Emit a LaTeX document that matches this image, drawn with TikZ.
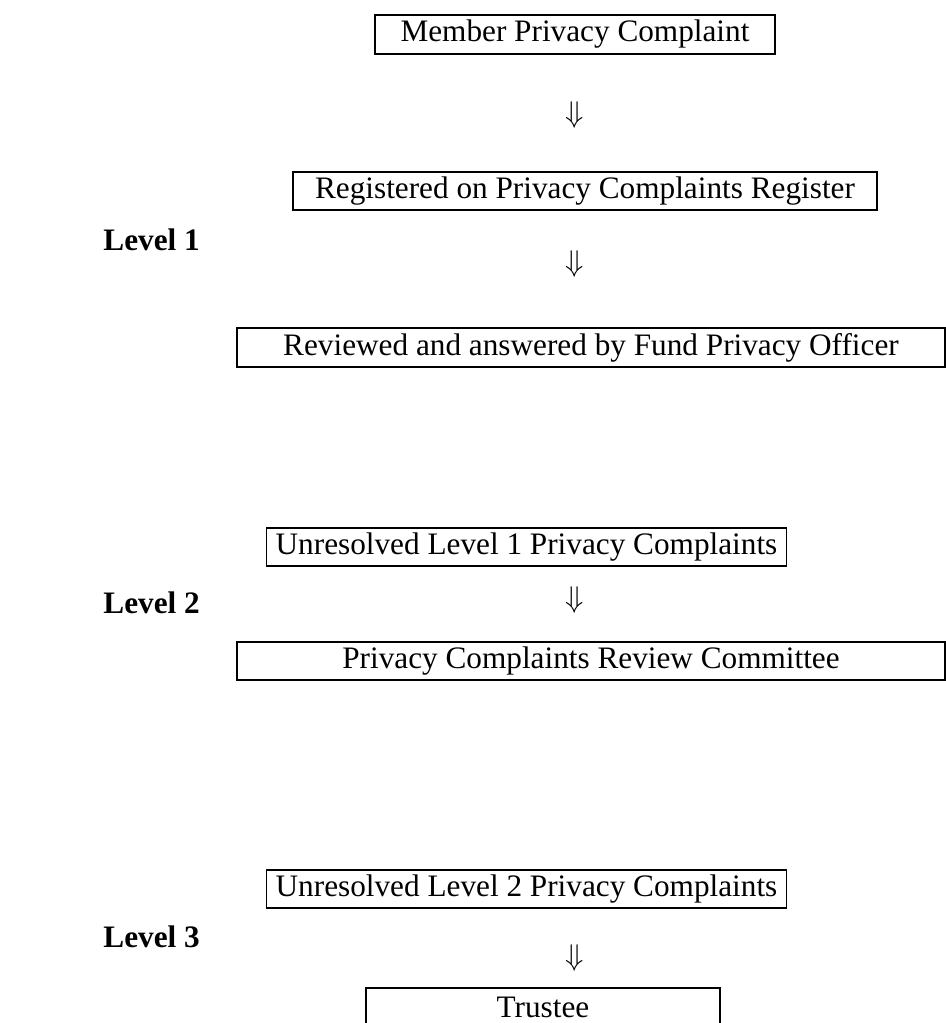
\documentclass[tikz,border=0pt]{standalone}
\usepackage{fontspec}
\setmainfont{Liberation Serif}
\usepackage{amsmath}
\usepackage{amssymb}
\usepackage{tikz}

\tikzset{
    stepbox/.style={draw, line width=0.7pt, inner sep=0pt, font=\fontsize{12.5}{15}\selectfont},
    downarr/.style={inner sep=0pt, font=\fontsize{12}{14}\selectfont},
    lvl/.style={anchor=west, inner sep=0pt, font=\fontsize{12.5}{15}\selectfont\bfseries}
}

\begin{document}
\begin{tikzpicture}[x=0.4pt,y=-0.4pt]
        \useasboundingbox (0,0) rectangle (946,1023);
        % level 1
        \node[stepbox, minimum width=160pt, minimum height=15.6pt] (member) at (575,34.5) {Member Privacy Complaint};
        \node[downarr] (d1) at (575,115) {$\Downarrow$};
        \node[stepbox, minimum width=233.6pt, minimum height=15.2pt] (register) at (585,191) {Registered on Privacy Complaints Register};
        \node[lvl] (lvlone) at (103,240) {Level 1};
        \node[downarr] (d2) at (575,264) {$\Downarrow$};
        \node[stepbox, minimum width=283.2pt, minimum height=15.6pt] (officer) at (591,347.5) {Reviewed and answered by Fund Privacy Officer};
        % level 2
        \node[stepbox, minimum width=208pt, minimum height=15.2pt] (unresone) at (526.5,547) {Unresolved Level 1 Privacy Complaints};
        \node[lvl] (lvltwo) at (103,603) {Level 2};
        \node[downarr] (d3) at (575,600) {$\Downarrow$};
        \node[stepbox, minimum width=283.2pt, minimum height=15.2pt] (committee) at (591,661) {Privacy Complaints Review Committee};
        % level 3
        \node[stepbox, minimum width=208pt, minimum height=15.2pt] (unrestwo) at (526.5,889) {Unresolved Level 2 Privacy Complaints};
        \node[lvl] (lvlthree) at (103,937) {Level 3};
        \node[downarr] (d4) at (575,958) {$\Downarrow$};
        \node[stepbox, minimum width=141.6pt, minimum height=15.6pt] (trustee) at (543,1007.5) {Trustee};
    \end{tikzpicture}
\end{document}
